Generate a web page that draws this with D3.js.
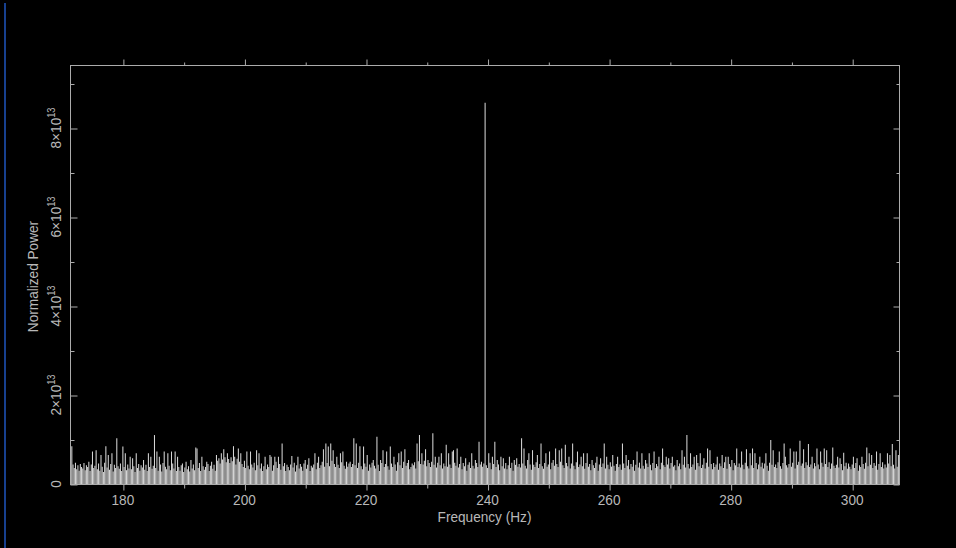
<!DOCTYPE html>
<html>
<head>
<meta charset="utf-8">
<script src="https://cdn.jsdelivr.net/npm/d3@7"></script>
<style>
  html, body { margin: 0; padding: 0; background: #000; }
  svg { display: block; }
</style>
</head>
<body>
<svg id="chart"></svg>
<script>
(function() {
  'use strict';

  // frequency bins (Hz), evenly spaced
  const freqStart = 171.4;
  const freqStep = 0.2;

  // normalized power per bin, in units of 1e11
  const powerE11 = [
    40,85,44,36,48,33,42,30,45,38, 35,47,31,42,38,50,29,44,73,36,
    41,76,33,46,30,65,39,27,48,85, 37,65,32,45,69,28,43,36,103,40,
    34,46,29,84,38,69,31,44,35,61, 33,58,40,27,69,36,45,30,42,37,
    54,32,43,29,69,38,61,34,41,110, 36,73,30,61,44,28,47,73,39,33,
    69,41,31,73,46,35,73,29,61,38, 30,42,46,27,37,50,33,40,28,54,
    35,44,31,82,80,36,47,29,61,40, 32,38,50,45,29,41,50,34,43,30,
    65,52,58,46,69,55,78,60,49,69, 56,47,60,51,85,61,44,57,80,50,
    69,45,38,52,36,73,41,33,73,44, 37,48,31,76,42,69,35,46,29,40,
    61,33,44,38,65,61,30,42,61,50, 36,61,45,32,91,40,47,29,43,38,
    31,44,63,37,48,28,42,61,35,45, 39,30,46,54,34,43,58,29,41,37,
    44,69,33,48,61,36,42,50,78,39, 91,47,84,40,91,52,76,45,38,61,
    43,36,69,49,73,41,34,50,39,46, 50,38,45,103,42,91,36,48,85,40,
    33,84,46,39,65,30,44,37,48,54, 41,35,106,43,29,54,47,76,38,45,
    73,40,32,84,46,38,61,44,30,49, 69,42,73,36,50,78,41,47,54,33,
    38,46,42,49,35,91,51,110,45,69, 44,52,78,40,54,47,38,50,114,43,
    61,37,48,61,42,69,35,46,40,88, 39,69,44,36,73,76,48,41,80,37,
    45,61,33,47,40,58,30,43,49,36, 69,41,35,54,47,38,95,44,50,39,
    46,857,42,36,69,48,33,61,45,95, 38,54,44,31,61,40,58,35,47,33,
    42,61,36,48,30,54,43,58,39,45, 37,103,46,80,41,35,54,69,44,32,
    76,43,38,49,65,36,45,91,40,34, 47,69,39,44,73,33,48,54,41,80,
    45,38,76,50,80,42,36,88,47,40, 61,35,46,91,41,33,49,73,38,44,
    61,40,69,34,47,69,39,45,31,54, 42,36,48,61,30,44,58,38,46,91,
    35,61,43,33,49,39,65,41,30,45, 61,38,44,32,91,46,36,65,41,54,
    33,45,39,54,30,43,73,37,48,35, 69,41,34,54,46,38,69,43,31,47,
    73,36,45,40,61,33,48,80,42,38, 61,44,58,35,47,61,39,42,31,54,
    40,46,33,76,43,61,37,110,45,35, 69,38,44,61,32,65,47,40,69,36,
    43,58,35,48,80,39,76,45,33,47, 38,44,61,32,46,40,65,36,49,61,
    34,61,45,39,54,31,47,42,80,38, 46,37,73,43,33,48,78,40,35,69,
    42,80,36,69,47,33,44,61,39,48, 35,46,69,41,30,48,99,43,76,38,
    44,36,49,73,40,34,47,91,61,42, 37,45,80,39,48,73,35,73,43,50,
    97,41,46,78,36,49,42,90,38,44, 61,35,47,40,80,44,33,73,48,39,
    80,45,76,38,49,34,46,82,41,36, 43,61,37,58,45,31,70,40,48,34,
    46,39,33,44,61,36,47,58,30,42, 38,61,45,34,48,82,40,69,43,65,
    36,47,41,73,32,45,69,38,49,35, 44,37,69,46,65,40,90,43,35,76,
    39,65
  ];

  const xDomain = [171.3, 307.7];
  const yDomain = [0, 9.416e13];
  const xMajorTicks = [180, 200, 220, 240, 260, 280, 300];
  const xMinorTicks = [190, 210, 230, 250, 270, 290];
  const yMajorTicks = [0, 2e13, 4e13, 6e13, 8e13];
  const yMinorTicks = [1e13, 3e13, 5e13, 7e13, 9e13];
  const yTickLabels = ['0', '2', '4', '6', '8'];   // mantissa of n×10^13

  const W = 956, H = 548;
  const left = 70, right = 899, top = 65, bottom = 484;
  const axisColor = '#acacac';
  const textColor = '#b8b8b8';
  const font = '"Liberation Sans", Arial, sans-serif';

  const data = powerE11.map((p, i) => ({ f: freqStart + i * freqStep, p: p * 1e11 }));

  const svg = d3.select('#chart').attr('width', W).attr('height', H);

  svg.append('rect').attr('width', W).attr('height', H).attr('fill', '#000');

  // blue edge on the left
  svg.append('rect')
    .attr('x', 4).attr('y', 3).attr('width', 2).attr('height', H - 3)
    .attr('fill', '#17408f');

  const x = d3.scaleLinear().domain(xDomain).range([left, right]);
  const y = d3.scaleLinear().domain(yDomain).range([bottom, top]);

  // spectrum as impulses
  svg.append('g')
    .attr('class', 'spectrum')
    .selectAll('line')
    .data(data)
    .enter()
    .append('line')
    .attr('x1', d => x(d.f))
    .attr('x2', d => x(d.f))
    .attr('y1', y(0))
    .attr('y2', d => y(d.p))
    .attr('stroke', '#d4d4d4')
    .attr('stroke-width', 1.05);

  // frame
  svg.append('rect')
    .attr('x', left + 0.5).attr('y', top + 0.5)
    .attr('width', right - left).attr('height', bottom - top)
    .attr('fill', 'none')
    .attr('stroke', axisColor)
    .attr('stroke-width', 1);

  function tickAxis(axis, transform, size, values) {
    const g = svg.append('g')
      .attr('transform', transform)
      .call(axis.tickValues(values).tickSize(size).tickFormat(''));
    g.select('.domain').remove();
    g.selectAll('line').attr('stroke', axisColor);
    g.selectAll('text').remove();
  }

  tickAxis(d3.axisBottom(x), `translate(0.5,${bottom + 0.5})`, 6, xMajorTicks);
  tickAxis(d3.axisBottom(x), `translate(0.5,${bottom + 0.5})`, 4, xMinorTicks);
  tickAxis(d3.axisTop(x), `translate(0.5,${top + 0.5})`, 6, xMajorTicks);
  tickAxis(d3.axisTop(x), `translate(0.5,${top + 0.5})`, 3, xMinorTicks);
  tickAxis(d3.axisRight(y), `translate(${left + 0.5},0.5)`, 7, yMajorTicks);
  tickAxis(d3.axisRight(y), `translate(${left + 0.5},0.5)`, 4, yMinorTicks);
  tickAxis(d3.axisLeft(y), `translate(${right + 0.5},0.5)`, 6, yMajorTicks);
  tickAxis(d3.axisLeft(y), `translate(${right + 0.5},0.5)`, 3, yMinorTicks);

  function addText(tx, ty, rot, str) {
    return svg.append('text')
      .attr('transform', `translate(${tx},${ty}) rotate(${rot}) scale(0.88,1)`)
      .attr('text-anchor', 'middle')
      .attr('font-family', font)
      .attr('font-size', 15.5)
      .attr('fill', textColor)
      .text(str);
  }

  // x tick labels
  xMajorTicks.forEach(v => addText(x(v), 505, 0, String(v)));

  // y tick labels, n×10^13
  yMajorTicks.forEach((v, i) => {
    if (v === 0) {
      addText(61, y(v), -90, '0');
      return;
    }
    const t = addText(61, y(v), -90, yTickLabels[i] + '×10');
    t.append('tspan')
      .attr('dy', -6)
      .attr('font-size', 10.5)
      .text('13');
  });

  addText((left + right) / 2, 522, 0, 'Frequency (Hz)');
  addText(38, (top + bottom) / 2 + 2, -90, 'Normalized Power');
})();
</script>
</body>
</html>
